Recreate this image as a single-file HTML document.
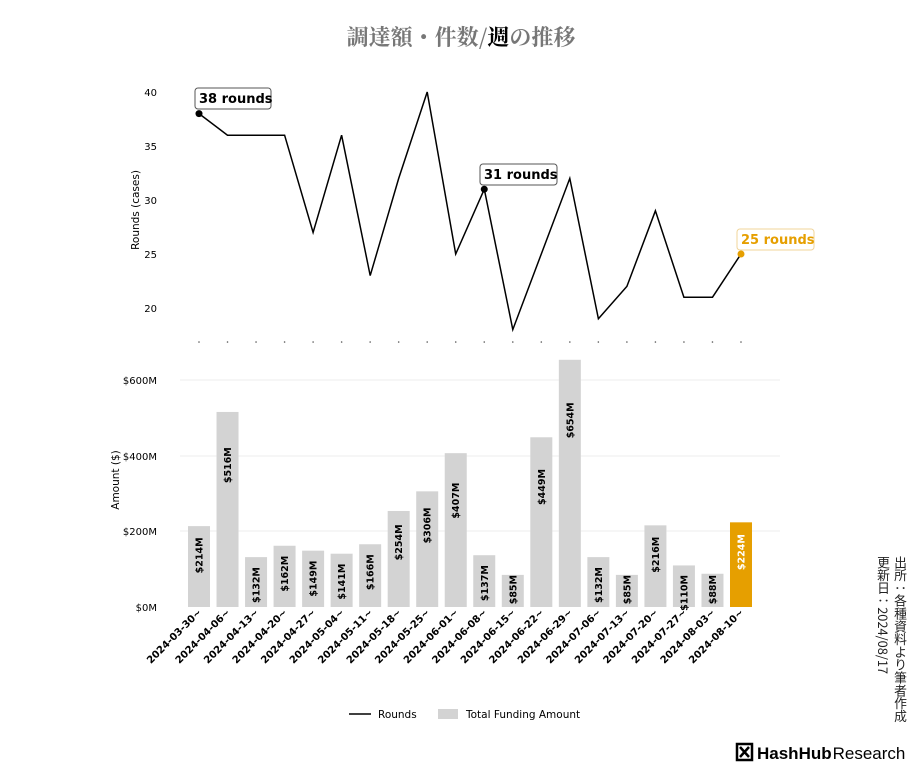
<!DOCTYPE html>
<html><head><meta charset="utf-8"><style>
body{margin:0;background:#fff;width:922px;height:768px;overflow:hidden;font-family:"DejaVu Sans","Liberation Sans",sans-serif}
</style></head><body>
<svg id="s" width="922" height="768" xmlns="http://www.w3.org/2000/svg" style="position:absolute;left:0;top:0">
<text x="461" y="45" text-anchor="middle" font-family="'Noto Serif CJK SC',serif" font-weight="bold" font-size="22" fill="#777">調達額・件数/<tspan fill="#000">週</tspan>の推移</text>
<g font-size="10" fill="#000" text-anchor="end">
<text x="157" y="96">40</text><text x="157" y="150">35</text><text x="157" y="204">30</text><text x="157" y="258">25</text><text x="157" y="312">20</text>
<text x="157" y="384">$600M</text><text x="157" y="460">$400M</text><text x="157" y="535">$200M</text><text x="157" y="611">$0M</text>
</g>
<text transform="translate(139,210) rotate(-90)" text-anchor="middle" font-size="10.5">Rounds (cases)</text>
<text transform="translate(119,480) rotate(-90)" text-anchor="middle" font-size="10.5">Amount ($)</text>
<g stroke="#eee" stroke-width="1"><line x1="180" y1="380" x2="780" y2="380"/><line x1="180" y1="456" x2="780" y2="456"/><line x1="180" y1="531" x2="780" y2="531"/></g>
<g id="g"></g>
<line x1="349" y1="714" x2="371" y2="714" stroke="#000" stroke-width="1.5"/>
<text x="378" y="718" font-size="10.5">Rounds</text>
<rect x="438" y="709" width="20" height="10" fill="#d3d3d3"/>
<text x="466" y="718" font-size="10.5">Total Funding Amount</text>
<g transform="translate(737,742)">
<rect x="0" y="2" width="15" height="16" fill="none" stroke="#000" stroke-width="2.5"/>
<path d="M3 5 L12 15 M12 5 L3 15" stroke="#000" stroke-width="2.5"/>
<text x="20" y="17" font-family="'Liberation Sans',sans-serif" font-size="17"><tspan font-weight="bold">HashHub</tspan><tspan dx="1">Research</tspan></text>
</g>
</svg>
<div style="position:absolute;left:875px;top:556px;writing-mode:vertical-rl;font-family:'Noto Sans CJK JP',sans-serif;font-size:12.8px;line-height:17px;color:#222">出所：各種資料より筆者作成<br>更新日：2024/08/17</div>
<script>
const R=[38,36,36,36,27,36,23,32,40,25,31,18,25,32,19,22,29,21,21,25];
const A=[214,516,132,162,149,141,166,254,306,407,137,85,449,654,132,85,216,110,88,224];
const D=["03-30","04-06","04-13","04-20","04-27","05-04","05-11","05-18","05-25","06-01","06-08","06-15","06-22","06-29","07-06","07-13","07-20","07-27","08-03","08-10"];
const g=document.getElementById('g');let h='';
const X=i=>199+i*28.526, Y=v=>92+(40-v)*10.8, B=v=>607-v*0.378;
let pts=R.map((v,i)=>X(i).toFixed(1)+','+Y(v).toFixed(1)).join(' ');
h+=`<polyline points="${pts}" fill="none" stroke="#000" stroke-width="1.5"/>`;
R.forEach((v,i)=>{h+=`<circle cx="${X(i)}" cy="342" r="0.8" fill="#555"/>`;});
A.forEach((v,i)=>{const x=X(i),t=B(v),last=i==19,ht=607-t;
h+=`<rect x="${x-11}" y="${t}" width="22" height="${ht}" fill="${last?'#e69f00':'#d3d3d3'}"/>`;
const ly=Math.min(t+Math.max(10,ht*0.14)+(ht>150?8:0),575);
h+=`<text transform="translate(${x+3.5},${ly}) rotate(-90)" text-anchor="end" font-size="9.5" font-weight="bold" fill="${last?'#fff':'#000'}">$${v}M</text>`;
h+=`<text transform="translate(${x+3},${613}) rotate(-45)" text-anchor="end" font-size="10" font-weight="bold">2024-${D[i]}~</text>`;
});
h+=`<circle cx="${X(0)}" cy="${Y(38)}" r="3.5" fill="#000"/><circle cx="${X(10)}" cy="${Y(31)}" r="3.5" fill="#000"/><circle cx="${X(19)}" cy="${Y(25)}" r="3.5" fill="#e69f00"/>`;
h+=`<rect x="195" y="88" width="76" height="21" rx="3" fill="#fff" stroke="#555"/><text x="199" y="103" font-size="13" font-weight="bold">38 rounds</text>`;
h+=`<rect x="480" y="164" width="77" height="21" rx="3" fill="#fff" stroke="#555"/><text x="484" y="179" font-size="13" font-weight="bold">31 rounds</text>`;
h+=`<rect x="737" y="229" width="77" height="21" rx="3" fill="#fff" stroke="#f0d49a"/><text x="741" y="244" font-size="13" font-weight="bold" fill="#e69f00">25 rounds</text>`;
g.innerHTML=h;
</script>
</body></html>
